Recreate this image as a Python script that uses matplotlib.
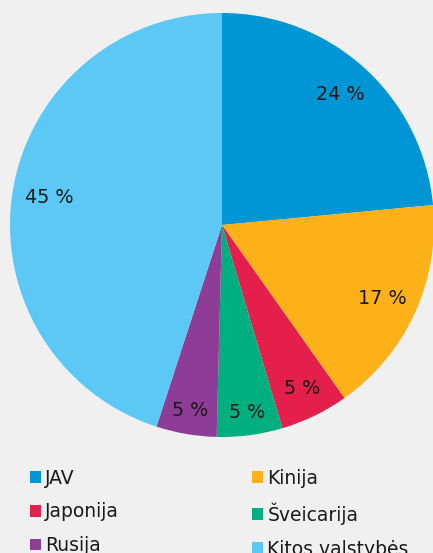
import matplotlib
matplotlib.use("Agg")
import matplotlib.pyplot as plt
import numpy as np
from matplotlib.patches import Patch

plt.rcParams["font.family"] = ["DejaVu Sans"]

# share of countries (reading from the picture)
countries = ["JAV", "Kinija", "Japonija", "Šveicarija", "Rusija", "Kitos valstybės"]
shares = [23.5, 16.7, 5.2, 5.0, 4.6, 45.0]
pct_labels = ["24 %", "17 %", "5 %", "5 %", "5 %", "45 %"]
colors = ["#0096d6", "#fdb119", "#e41f4b", "#00af80", "#8e3d96", "#5bc8f5"]
label_r = [0.83, 0.83, 0.86, 0.89, 0.89, 0.825]

bg = "#f0f0f0"
W, H = 433, 553

fig = plt.figure(figsize=(W / 100, H / 100), dpi=100, facecolor=bg)
cx, cy, r = 222, 225, 212
ax = fig.add_axes([(cx - r) / W, (H - cy - r) / H, 2 * r / W, 2 * r / H])
ax.set_facecolor(bg)

wedges, _ = ax.pie(shares, colors=colors, startangle=90, counterclock=False,
                   wedgeprops=dict(linewidth=0), radius=1)
for w, lab, d in zip(wedges, pct_labels, label_r):
    ang = np.deg2rad((w.theta1 + w.theta2) / 2)
    ax.text(d * np.cos(ang), d * np.sin(ang), lab, ha="center", va="center",
            fontsize=13.8, color="#1a1a1a")
ax.set_xlim(-1, 1)
ax.set_ylim(-1, 1)
ax.axis("off")

handles = [Patch(facecolor=c, edgecolor="none") for c in colors]
order = [0, 2, 4, 1, 3, 5]
fig.legend([handles[i] for i in order], [countries[i] for i in order],
           loc="upper left", bbox_to_anchor=(30 / W, 1 - 468.5 / H), ncol=2,
           frameon=False, fontsize=13.5, handlelength=0.6, handleheight=0.6,
           handletextpad=0.22, labelspacing=0.79, columnspacing=7.08,
           borderpad=0, borderaxespad=0, labelcolor="#1a1a1a")

fig.savefig("out.png", dpi=100, facecolor=bg)
